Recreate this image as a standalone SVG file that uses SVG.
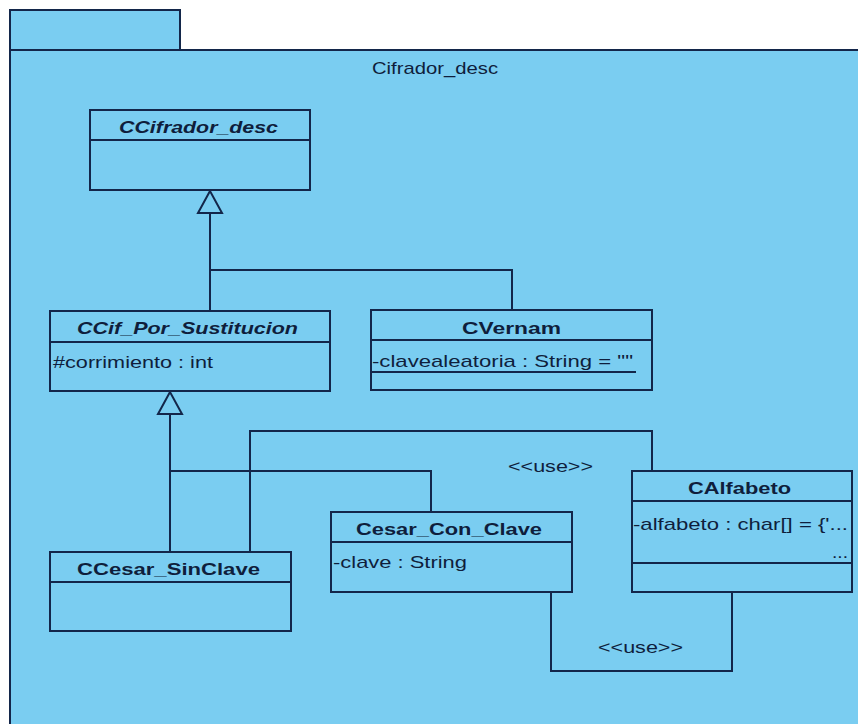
<svg xmlns="http://www.w3.org/2000/svg" width="858" height="724" viewBox="0 0 858 724">
<style>
.pk{fill:#7acdf1;stroke:#13264a;stroke-width:2}
.box{fill:#7acdf1;stroke:#13264a;stroke-width:2}
.ln{fill:none;stroke:#13264a;stroke-width:2}
.tri{fill:#7acdf1;stroke:#13264a;stroke-width:2}
text{font-family:"Liberation Sans",Arial,sans-serif;fill:#0f1e3c;font-size:17px}
.t{font-weight:bold;text-anchor:start}
.i{font-style:italic}
</style>
<rect width="858" height="724" fill="#ffffff"/>
<g id="package">
<rect class="pk" x="10" y="10" width="170" height="40"/>
<rect class="pk" x="10" y="50" width="860" height="690"/>
<text x="372" y="74" textLength="126" lengthAdjust="spacingAndGlyphs">Cifrador_desc</text>
</g>
<g id="connectors">
<polyline class="ln" points="210,213 210,311"/>
<polyline class="ln" points="210,270 512,270 512,310"/>
<polygon class="tri" points="210,191 198,213 222,213"/>
<polyline class="ln" points="170,414 170,552"/>
<polyline class="ln" points="170,471 431,471 431,512"/>
<polygon class="tri" points="170,392 158,414 182,414"/>
<polyline class="ln" points="250,552 250,431 652,431 652,471"/>
<text x="508" y="472" textLength="85" lengthAdjust="spacingAndGlyphs">&lt;&lt;use&gt;&gt;</text>
<polyline class="ln" points="551,592 551,671 732,671 732,592"/>
<text x="598" y="653" textLength="85" lengthAdjust="spacingAndGlyphs">&lt;&lt;use&gt;&gt;</text>
</g>
<g id="CCifrador_desc">
<rect class="box" x="90" y="110" width="220" height="80"/>
<line class="ln" x1="90" y1="140" x2="310" y2="140"/>
<text class="t i" x="119" y="133" textLength="159" lengthAdjust="spacingAndGlyphs">CCifrador_desc</text>
</g>
<g id="CCif_Por_Sustitucion">
<rect class="box" x="50" y="311" width="280" height="80"/>
<line class="ln" x1="50" y1="342" x2="330" y2="342"/>
<text class="t i" x="77" y="334" textLength="221" lengthAdjust="spacingAndGlyphs">CCif_Por_Sustitucion</text>
<text x="53" y="368" textLength="160" lengthAdjust="spacingAndGlyphs">#corrimiento : int</text>
</g>
<g id="CVernam">
<rect class="box" x="371" y="310" width="281" height="80"/>
<line class="ln" x1="371" y1="340" x2="652" y2="340"/>
<text class="t" x="462" y="334" textLength="99" lengthAdjust="spacingAndGlyphs">CVernam</text>
<text x="372" y="367" textLength="261" lengthAdjust="spacingAndGlyphs">-clavealeatoria : String = ""</text>
<line class="ln" x1="371" y1="372" x2="636" y2="372"/>
</g>
<g id="CCesar_SinClave">
<rect class="box" x="50" y="552" width="241" height="79"/>
<line class="ln" x1="50" y1="582" x2="291" y2="582"/>
<text class="t" x="77" y="575" textLength="183" lengthAdjust="spacingAndGlyphs">CCesar_SinClave</text>
</g>
<g id="Cesar_Con_Clave">
<rect class="box" x="331" y="512" width="241" height="80"/>
<line class="ln" x1="331" y1="542" x2="572" y2="542"/>
<text class="t" x="356" y="535" textLength="186" lengthAdjust="spacingAndGlyphs">Cesar_Con_Clave</text>
<text x="333" y="568" textLength="134" lengthAdjust="spacingAndGlyphs">-clave : String</text>
</g>
<g id="CAlfabeto">
<rect class="box" x="632" y="471" width="220" height="121"/>
<line class="ln" x1="632" y1="501" x2="852" y2="501"/>
<line class="ln" x1="632" y1="563" x2="852" y2="563"/>
<text class="t" x="688" y="494" textLength="103" lengthAdjust="spacingAndGlyphs">CAlfabeto</text>
<text x="633" y="530" textLength="215" lengthAdjust="spacingAndGlyphs">-alfabeto : char[] = {'...</text>
<text x="832" y="558" textLength="16" lengthAdjust="spacingAndGlyphs">...</text>
</g>
</svg>
